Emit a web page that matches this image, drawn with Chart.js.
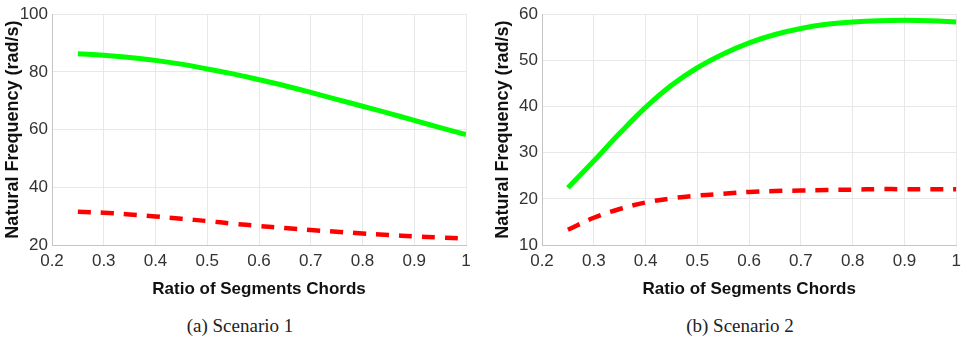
<!DOCTYPE html>
<html>
<head>
<meta charset="utf-8">
<script src="https://cdn.jsdelivr.net/npm/chart.js@4"></script>
<style>
  body { margin: 0; background: #fff; }
  #wrap { position: relative; width: 967px; height: 346px; }
  .box { position: absolute; top: 0; height: 300px; }
  .cap { position: absolute; top: 315px; font-family: 'Liberation Serif', 'DejaVu Serif', serif; font-size: 19px; color: #222; text-align: center; }
</style>
</head>
<body>
<div id="wrap">
  <div class="box" style="left:0;width:490px"><canvas id="chartA"></canvas></div>
  <div class="box" style="left:490px;width:477px"><canvas id="chartB"></canvas></div>
  <div class="cap" style="left:140px;width:200px">(a) Scenario 1</div>
  <div class="cap" style="left:640px;width:200px">(b) Scenario 2</div>
</div>
<script>
// Ratio of segments chords
const ratios = [0.25, 0.3, 0.35, 0.4, 0.45, 0.5, 0.55, 0.6, 0.65, 0.7, 0.75, 0.8, 0.85, 0.9, 0.95, 1.0];

// Scenario 1
const s1Green = [86.3, 85.8, 85.0, 84.0, 82.7, 81.0, 79.3, 77.3, 75.2, 72.9, 70.5, 68.1, 65.7, 63.2, 60.7, 58.3];
const s1Red   = [31.5, 31.2, 30.6, 29.9, 29.1, 28.3, 27.4, 26.6, 25.9, 25.2, 24.6, 24.0, 23.5, 23.0, 22.6, 22.2];

// Scenario 2
const s2Green = [22.4, 28.2, 34.2, 39.8, 44.6, 48.4, 51.4, 53.8, 55.6, 56.9, 57.8, 58.3, 58.6, 58.7, 58.6, 58.3];
const s2Red   = [13.3, 15.9, 17.8, 19.2, 20.1, 20.7, 21.1, 21.5, 21.7, 21.8, 21.9, 22.0, 22.1, 22.1, 22.1, 22.1];

const tickFont = { family: "'Liberation Sans', Arial, sans-serif", size: 17 };
const xTitleFont = { family: "'Liberation Sans', Arial, sans-serif", size: 17, weight: 'bold' };
const yTitleFont = { family: "'Liberation Sans', Arial, sans-serif", size: 18, weight: 'bold' };

function toPoints(ys) {
    return ratios.map((x, i) => ({ x: x, y: ys[i] }));
}

function makeChart(id, green, red, yMin, yMax, yStep, padding) {
    const ctx = document.getElementById(id).getContext('2d');
    return new Chart(ctx, {
        type: 'line',
        data: {
            datasets: [
                {
                    data: toPoints(green),
                    borderColor: '#00ff00',
                    borderWidth: 5,
                    pointRadius: 0,
                    tension: 0.4,
                    fill: false
                },
                {
                    data: toPoints(red),
                    borderColor: '#ff0000',
                    borderWidth: 4.5,
                    borderDash: [13, 10],
                    pointRadius: 0,
                    tension: 0.4,
                    fill: false
                }
            ]
        },
        options: {
            responsive: true,
            maintainAspectRatio: false,
            animation: false,
            layout: { padding: padding },
            plugins: {
                legend: { display: false },
                tooltip: { enabled: false }
            },
            scales: {
                x: {
                    type: 'linear',
                    min: 0.2,
                    max: 1,
                    ticks: {
                        stepSize: 0.1,
                        color: '#333',
                        font: tickFont,
                        padding: 6,
                        maxRotation: 0,
                        callback: v => String(Number(v.toFixed(1)))
                    },
                    grid: { color: '#e8e8e8', tickLength: 0 },
                    border: { color: '#c4c4c4' },
                    title: {
                        display: true,
                        text: 'Ratio of Segments Chords',
                        color: '#111',
                        font: xTitleFont,
                        padding: { top: 0, bottom: 0 }
                    },
                    afterFit: scale => { scale.height = 55; }
                },
                y: {
                    min: yMin,
                    max: yMax,
                    ticks: {
                        stepSize: yStep,
                        color: '#333',
                        font: tickFont,
                        padding: 4
                    },
                    grid: { color: '#e8e8e8', tickLength: 0 },
                    border: { color: '#c4c4c4' },
                    title: {
                        display: true,
                        text: 'Natural Frequency (rad/s)',
                        color: '#111',
                        font: yTitleFont,
                        padding: { top: 2, bottom: 0 }
                    },
                    afterFit: scale => { scale.width = 52; }
                }
            }
        }
    });
}

makeChart('chartA', s1Green, s1Red, 20, 100, 20, { top: 12, right: 24, left: 0, bottom: 0 });
makeChart('chartB', s2Green, s2Red, 10, 60, 10, { top: 10, right: 7, left: 0, bottom: 0 });
</script>
</body>
</html>
